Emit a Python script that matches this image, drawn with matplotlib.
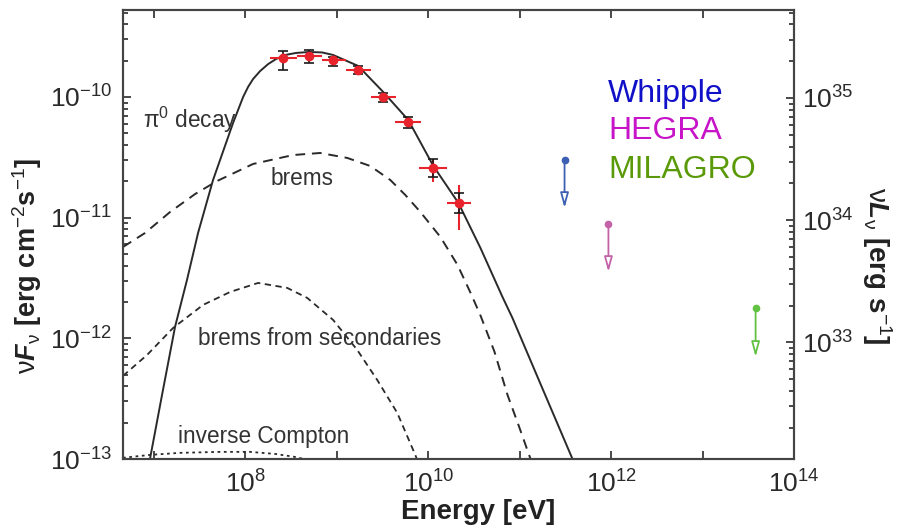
import numpy as np
import matplotlib
matplotlib.use("Agg")
from matplotlib import pyplot as plt
from matplotlib.ticker import LogLocator, FuncFormatter, FixedLocator, NullFormatter, NullLocator

plt.rcParams['font.family'] = ['Liberation Sans', 'DejaVu Sans']
plt.rcParams['mathtext.fontset'] = 'custom'
plt.rcParams['mathtext.rm'] = 'Liberation Sans'
plt.rcParams['mathtext.it'] = 'Liberation Sans:italic'
plt.rcParams['mathtext.bf'] = 'Liberation Sans:bold'
plt.rcParams['mathtext.bfit'] = 'Liberation Sans:italic:bold'

# model curves (log10 E [eV], log10 nuF_nu)
pi0_logE = [6.955, 7.087, 7.229, 7.360, 7.481, 7.645, 7.864, 7.974, 8.028, 8.083, 8.160,
            8.248, 8.335, 8.434, 8.554, 8.697, 8.839, 8.959, 9.233, 9.507, 9.781, 10.055,
            10.329, 10.570, 10.811, 10.920, 11.227, 11.577]
pi0_logF = [-13.0, -12.469, -11.906, -11.516, -11.127, -10.688, -10.215, -10.0, -9.917,
            -9.851, -9.785, -9.727, -9.685, -9.652, -9.635, -9.627, -9.631, -9.652, -9.743,
            -9.959, -10.191, -10.572, -10.878, -11.251, -11.657, -11.831, -12.378, -13.0]

brems_logE = [6.660, 6.901, 7.175, 7.449, 7.690, 8.083, 8.521, 8.817, 9.113, 9.365, 9.584,
              9.748, 9.913, 10.132, 10.318, 10.460, 10.570, 10.723, 10.866, 10.986, 11.118]
brems_logF = [-11.243, -11.127, -10.953, -10.804, -10.696, -10.555, -10.481, -10.464,
              -10.505, -10.572, -10.688, -10.812, -10.953, -11.160, -11.390, -11.620,
              -11.810, -12.110, -12.469, -12.718, -13.0]

sec_logE = [6.660, 6.923, 7.208, 7.536, 7.831, 8.138, 8.456, 8.675, 8.959, 9.222, 9.441,
            9.660, 9.857, 9.879]
sec_logF = [-12.311, -12.138, -11.914, -11.723, -11.616, -11.541, -11.582, -11.665,
            -11.848, -12.096, -12.345, -12.618, -12.966, -13.008]

ic_logE = [6.660, 6.955, 7.284, 7.722, 8.050, 8.324, 8.543, 8.729]
ic_logF = [-12.99, -12.966, -12.949, -12.941, -12.941, -12.958, -12.983, -13.016]

# measured points
pt_logE = [8.415, 8.697, 8.960, 9.233, 9.507, 9.780, 10.055, 10.330]
pt_logF = [-9.680, -9.660, -9.693, -9.776, -10.000, -10.207, -10.588, -10.878]
pt_Elo = [8.27, 8.56, 8.84, 9.10, 9.375, 9.64, 9.90, 10.20]
pt_Ehi = [8.56, 8.84, 9.10, 9.375, 9.65, 9.92, 10.20, 10.47]
blk_hi = [-9.619, -9.613, -9.668, -9.743, -9.967, -10.166, -10.513, -10.795]
blk_lo = [-9.776, -9.718, -9.743, -9.809, -10.041, -10.257, -10.662, -10.961]
red_hi = [-9.650, -9.640, -9.680, -9.760, -9.985, -10.190, -10.513, -10.729]
red_lo = [-9.710, -9.690, -9.710, -9.790, -10.020, -10.230, -10.704, -11.101]

# upper limits
ul_names = ['Whipple', 'HEGRA', 'MILAGRO']
ul_logE = [11.49, 11.97, 13.58]
ul_top = [-10.522, -11.05, -11.748]
ul_tip = [-10.92, -11.45, -12.154]
ul_colors = ['#3d5fb3', '#c462a8', '#62c244']
ul_text_colors = ['#1010c8', '#c814c8', '#5a9a08']

W, H = 907, 532
fig = plt.figure(figsize=(W / 100, H / 100), dpi=100)
ax = fig.add_axes([123 / W, 1 - 459 / H, (794 - 123) / W, (459 - 9.5) / H])

p = lambda a: 10 ** np.array(a)
lc = '#2a2a2a'
ax.plot(p(pi0_logE), p(pi0_logF), '-', color=lc, lw=1.4)
ax.plot(p(brems_logE), p(brems_logF), '--', color=lc, lw=1.4, dashes=(5, 3.5))
ax.plot(p(sec_logE), p(sec_logF), '--', color=lc, lw=1.3, dashes=(3.5, 2.5))
ax.plot(p(ic_logE), p(ic_logF), ':', color=lc, lw=1.3, dashes=(1.5, 2))

E = p(pt_logE)
F = p(pt_logF)
red = '#e8232b'
ax.errorbar(E, F, xerr=[E - p(pt_Elo), p(pt_Ehi) - E],
            yerr=[F - p(red_lo), p(red_hi) - F], fmt='none', ecolor=red, elinewidth=1.5)
ax.errorbar(E, F, yerr=[F - p(blk_lo), p(blk_hi) - F], fmt='none', ecolor='#1a1a1a',
            elinewidth=1.2, capsize=3.5, capthick=1.2)
ax.plot(E, F, 'o', color=red, ms=6, zorder=5)

for x, top, tip, c in zip(ul_logE, ul_top, ul_tip, ul_colors):
    ax.plot(10 ** x, 10 ** top, 'o', color=c, ms=4.5)
    ax.annotate('', xy=(10 ** x, 10 ** tip), xytext=(10 ** x, 10 ** top),
                arrowprops=dict(arrowstyle='-|>,head_length=0.9,head_width=0.25',
                                ec=c, fc='white', lw=1.3, shrinkA=0, shrinkB=0))

ax.set_xscale('log')
ax.set_yscale('log')
ax.set_xlim(10 ** 6.66, 1e14)
ax.set_ylim(1e-13, 10 ** -9.275)

fmt = FuncFormatter(lambda v, pos: '$10^{%d}$' % int(round(np.log10(v))))
ax.xaxis.set_major_locator(FixedLocator([10.0 ** k for k in range(7, 15)]))
ax.xaxis.set_major_formatter(FuncFormatter(
    lambda v, pos: '$10^{%d}$' % int(round(np.log10(v))) if int(round(np.log10(v))) % 2 == 0 else ''))
ax.xaxis.set_minor_locator(NullLocator())
ax.yaxis.set_major_locator(FixedLocator([1e-13, 1e-12, 1e-11, 1e-10]))
ax.yaxis.set_major_formatter(fmt)
ax.yaxis.set_minor_locator(LogLocator(base=10, subs=np.arange(2, 10), numticks=20))
ax.yaxis.set_minor_formatter(NullFormatter())

tc = '#2a2a2a'
ax.tick_params(which='both', direction='in', top=True, right=False, colors=tc,
               labelsize=19, width=1.2)
ax.tick_params(which='major', length=6, pad=8)
ax.tick_params(which='minor', length=3.5)
for s in ax.spines.values():
    s.set_color('#444444')
    s.set_linewidth(1.5)

ax2 = ax.twinx()
ax2.set_yscale('log')
ax2.set_ylim(1.11e32, 5.3e35)
ax2.yaxis.set_major_locator(FixedLocator([1e33, 1e34, 1e35]))
ax2.yaxis.set_major_formatter(fmt)
ax2.yaxis.set_minor_locator(LogLocator(base=10, subs=np.arange(2, 10), numticks=20))
ax2.yaxis.set_minor_formatter(NullFormatter())
ax2.tick_params(which='both', direction='in', colors=tc, labelsize=19, width=1.2)
ax2.tick_params(which='major', length=6, pad=6)
ax2.tick_params(which='minor', length=3.5)
for s in ax2.spines.values():
    s.set_color('#444444')
    s.set_linewidth(1.5)

# curve labels
lab = dict(fontsize=16.3, color='#333333', va='baseline', ha='left')
fig.text(143 / W, 1 - 128 / H, r'$\mathrm{\pi}^0$ decay', **lab)
fig.text(271 / W, 1 - 185 / H, 'brems', **lab)
fig.text(198 / W, 1 - 345 / H, 'brems from secondaries', **lab)
fig.text(178 / W, 1 - 443 / H, 'inverse Compton', **lab)

for name, c, yb in zip(ul_names, ul_text_colors, [102, 139, 178]):
    fig.text(608 / W, 1 - yb / H, name, fontsize=23, color=c, va='baseline', ha='left')

fig.text(478 / W, 1 - 512 / H, 'Energy [eV]', fontsize=20, fontweight='bold',
         color='#222222', ha='center', va='center')
fig.text(27 / W, 1 - 266 / H, r'$\mathrm{\nu}\mathbfit{F}_\mathrm{\nu}$ [erg cm$^{-2}$s$^{-1}$]',
         fontsize=19.5, fontweight='bold', color='#222222', rotation=90, ha='center', va='center')
fig.text(877 / W, 1 - 266 / H, r'$\mathrm{\nu}\mathbfit{L}_\mathrm{\nu}$ [erg s$^{-1}$]',
         fontsize=20, fontweight='bold', color='#222222', rotation=270, ha='center', va='center')

fig.savefig('out.png', dpi=100)
